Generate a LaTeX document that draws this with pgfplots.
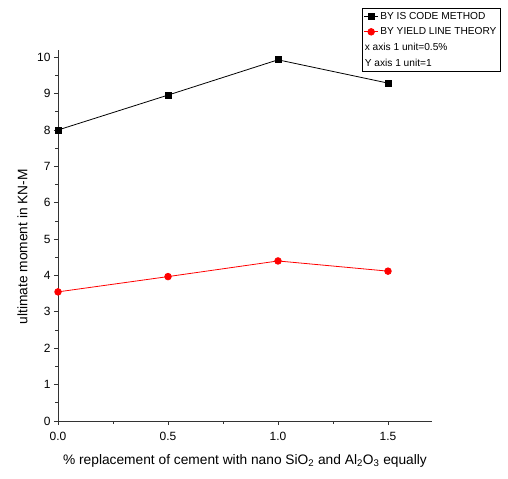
\documentclass[border=0pt]{standalone}
\usepackage{pgfplots}
\pgfplotsset{compat=1.18}
\usepackage{fontspec}
\setmainfont{Liberation Sans}
\begin{document}
\begin{tikzpicture}
\begin{axis}[
  scale only axis, width=374bp, height=371bp,
  at={(0,0)}, anchor=south west,
  xmin=0, xmax=1.7, ymin=0, ymax=10.2,
  axis x line*=bottom, axis y line*=left,
  axis line style={black!80, line width=0.9pt},
  xtick={0,0.5,1,1.5}, ytick={0,1,...,10},
  minor x tick num=1, minor y tick num=1,
  tick align=outside,
  major tick length=4bp, minor tick length=2.5bp,
  tick style={black!80, line width=0.8pt},
  /pgf/number format/assume math mode=true,
  ticklabel style={font=\fontsize{12}{14}\selectfont},
  xticklabel style={yshift=-4bp, /pgf/number format/.cd, fixed, fixed zerofill, precision=1},
  label style={font=\fontsize{13.8}{16}\selectfont},
  xlabel={\% replacement of cement with nano SiO\textsubscript{2} and Al\textsubscript{2}O\textsubscript{3} equally},
  ylabel={ultimate moment in KN-M},
  xlabel style={at={(axis description cs:0.5,0)}, anchor=north, yshift=-30bp},
  ylabel style={at={(axis description cs:0,0.47)}, anchor=south, yshift=27bp},
  legend style={at={(0.813,1.113)}, anchor=north west, draw=black, line width=0.8pt,
    font=\fontsize{10.2}{12}\selectfont, inner sep=1.5bp, row sep=3bp, cells={anchor=west}},
  legend cell align=left,
  legend image code/.code={\draw[mark repeat=2,mark phase=2] plot coordinates {(0cm,0cm) (0.24cm,0cm) (0.48cm,0cm)};},
  legend image post style={line width=0.8pt},
  clip=false,
]
\addplot[black, line width=0.8pt, mark=square*, mark size=3bp, mark options={solid}] coordinates {
(0,8.0) (0.5,8.96) (1.0,9.93) (1.5,9.29)};
\addlegendentry{BY IS CODE METHOD}
\addplot[red, line width=0.8pt, mark=*, mark size=3.3bp] coordinates {
(0,3.55) (0.5,3.97) (1.0,4.40) (1.5,4.12)};
\addlegendentry{BY YIELD LINE THEORY}
\addlegendimage{empty legend}
\addlegendentry{\hspace{-0.55cm}x axis 1 unit=0.5\%}
\addlegendimage{empty legend}
\addlegendentry{\hspace{-0.55cm}Y axis 1 unit=1}
\end{axis}
\path[use as bounding box] (-58bp,-58bp) rectangle (450bp,421bp);
\end{tikzpicture}
\end{document}
